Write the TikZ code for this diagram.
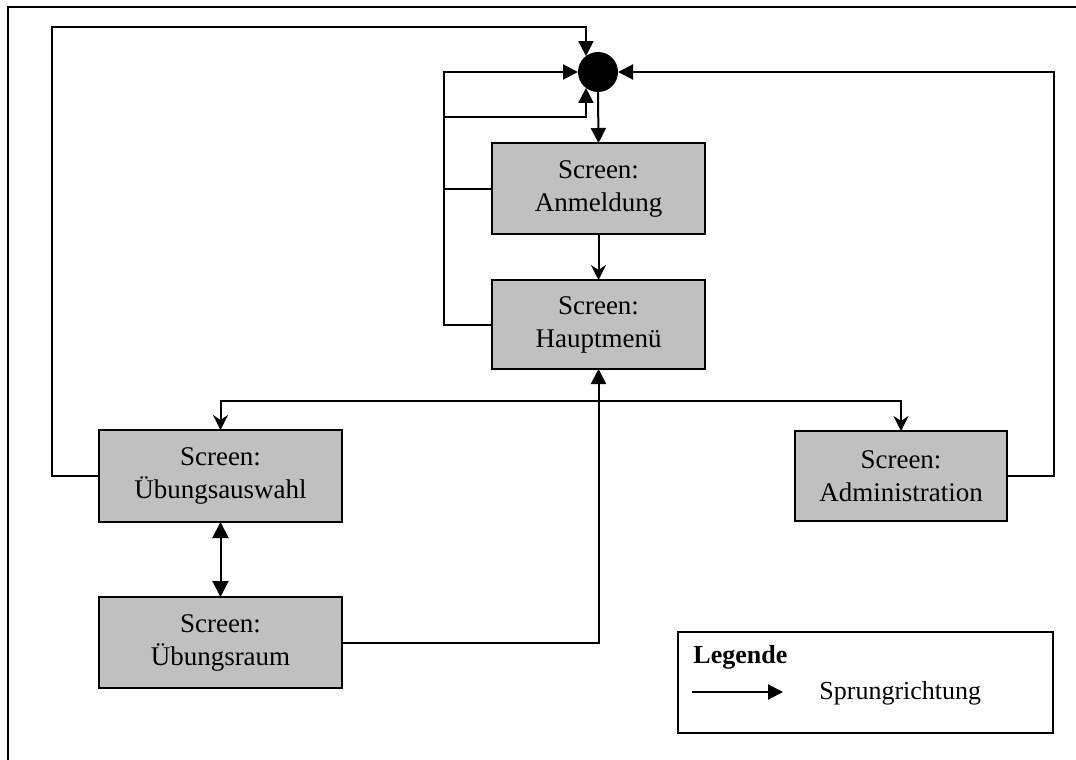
\documentclass[tikz,border=0pt]{standalone}
\usepackage{fontspec}
\setmainfont{Liberation Serif}
\usetikzlibrary{arrows.meta,calc,shapes.geometric}
\definecolor{boxgray}{RGB}{192,192,192}
\tikzset{
  screen/.style={draw, fill=boxgray, line width=1pt, inner sep=0pt, outer sep=0pt,
    align=center, font=\fontsize{13.5pt}{16.5pt}\selectfont},
  hub/.style={circle, fill=black, minimum size=20pt, inner sep=0pt, outer sep=0pt},
  link/.style={line width=1pt},
  tri/.style={link, -{Triangle[length=7.5pt,width=7.5pt]}},
  tritwo/.style={link, {Triangle[length=8pt,width=8pt]}-{Triangle[length=8pt,width=8pt]}},
  stl/.style={link, -{Stealth[length=7.5pt,width=7.5pt,inset=2.5pt]}},
  legtext/.style={inner sep=0pt, font=\fontsize{13pt}{16pt}\selectfont},
}
\begin{document}
\begin{tikzpicture}[x=0.5pt, y=-0.5pt]
\useasboundingbox (0,0) rectangle (1076,760);
% outer frame
\draw[line width=1pt] (8,760) -- (8,7) -- (1076,7);

% central junction
\node[hub] (dot) at (598,72) {};

% screens
\node[screen, minimum width=106.5pt, minimum height=45.5pt] (anm) at (598.5,188.5) {Screen:\\Anmeldung};
\node[screen, minimum width=106.5pt, minimum height=44.5pt] (haupt) at (598.5,324.5) {Screen:\\Hauptmenü};
\node[screen, minimum width=121.5pt, minimum height=46pt] (ueb) at (220.5,476) {Screen:\\Übungsauswahl};
\node[screen, minimum width=106pt, minimum height=45pt] (adm) at (901,476) {Screen:\\Administration};
\node[screen, minimum width=121.5pt, minimum height=45.5pt] (raum) at (220.5,642.5) {Screen:\\Übungsraum};

% junction to login and on to main menu
\draw[tri] (dot.south) -- (anm.north);
\draw[stl] (anm.south) -- (haupt.north);

% jumps back to the junction
\draw[tri] (haupt.west) -- ++(-48,0) |- (dot.west);
\draw[tri] (anm.west) -- ++(-48,0) |- ($(dot.-127)+(0,29)$) -- (dot.-127);
\draw[tri] (ueb.west) -- ++(-47,0) |- ($(dot.127)+(0,-29)$) -- (dot.127);
\draw[tri] (adm.east) -- ++(47,0) |- (dot.east);

% main menu branches
\coordinate (split) at (598.5,401);
\draw[stl] (split) -| (ueb.north);
\draw[stl] (split) -| (adm.north);
\draw[tri] (raum.east) -| (haupt.south);
\draw[tritwo] (ueb.south) -- (raum.north);

% legend
\node[draw, line width=1pt, minimum width=187.5pt, minimum height=50.5pt, inner sep=0pt] (leg) at (865.5,682.5) {};
\node[legtext, anchor=base west, font=\fontsize{13pt}{16pt}\selectfont\bfseries] (legtitle) at (693,663) {Legende};
\coordinate (legA) at (692,692);
\coordinate (legB) at (783,692);
\draw[tri] (legA) -- (legB);
\node[legtext, anchor=base west] (legdesc) at (819,699) {Sprungrichtung};
\end{tikzpicture}
\end{document}
